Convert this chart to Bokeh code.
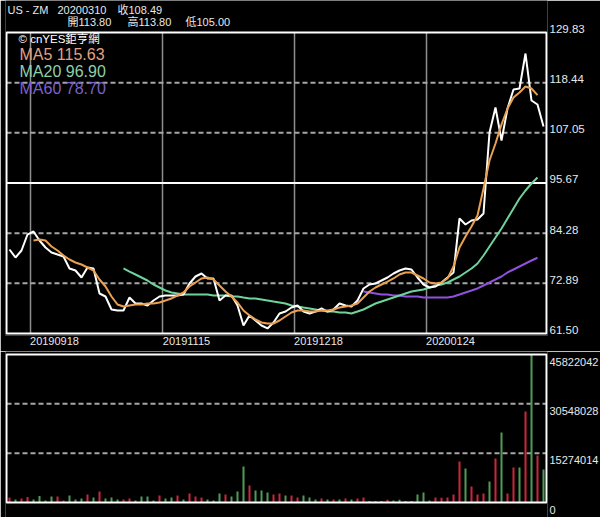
import numpy as np
from bokeh.plotting import figure
from bokeh.layouts import column
from bokeh.models import Range1d, LinearAxis, FixedTicker, Label, PrintfTickFormatter, ColumnDataSource
from bokeh.embed import file_html
from bokeh.resources import INLINE

# ---------------- data ----------------
symbol = "US - ZM"
last_date = "20200310"
last_close = "108.49"
last_open = "113.80"
last_high = "113.80"
last_low = "105.00"
source_txt = "© cnYES鉅亨網"

ma_names = ["MA5", "MA20", "MA60"]
ma_last = ["115.63", "96.90", "78.70"]

date_labels = ["20190918", "20191115", "20191218", "20200124"]
date_index = [4, 26, 48, 70]

price_ticks = [61.50, 72.89, 84.28, 95.67, 107.05, 118.44, 129.83]
vol_ticks = [0, 15274014, 30548028, 45822042]

close = [80.57, 78.75, 80.34, 83.97, 84.66, 82.61, 81.02, 79.89, 79.43, 78.98,
         76.26, 75.80, 74.21, 76.48, 76.26, 70.58, 69.90, 66.95, 66.72, 66.72,
         69.67, 68.31, 68.31, 67.86, 68.99, 69.90, 70.13, 70.13, 70.13, 70.35,
         72.85, 74.44, 75.12, 73.99, 73.99, 68.99, 70.13, 70.13, 67.86, 63.32,
         65.59, 64.45, 63.32, 62.64, 64.00, 66.04, 66.49, 67.40, 67.86, 66.49,
         66.04, 66.49, 67.18, 66.49, 66.95, 68.31, 67.86, 67.63, 68.99, 71.72,
         72.62, 72.85, 73.53, 74.21, 75.12, 75.80, 76.26, 76.03, 74.21, 72.62,
         71.94, 72.17, 73.08, 74.21, 75.35, 87.61, 86.24, 87.15, 87.38, 88.74,
         107.13, 112.81, 105.31, 112.58, 116.89, 117.12, 125.06, 114.39, 113.49, 108.49]

ma5 = [None] * 4 + [
    82.61, 82.84, 82.61, 81.25, 80.34, 79.21, 78.30, 77.62, 77.16, 76.48,
    75.80, 73.76, 72.17, 69.90, 68.08, 67.63, 67.86, 68.08, 68.08, 68.31,
    68.31, 68.54, 68.99, 69.45, 70.13, 70.81, 72.17, 73.08, 73.99, 74.21,
    73.76, 72.40, 71.03, 69.90, 68.54, 66.72, 65.59, 64.68, 64.00, 63.77,
    63.77, 64.45, 65.36, 66.27, 66.72, 66.72, 66.49, 66.49, 66.72, 66.72,
    66.95, 67.40, 67.63, 67.86, 68.31, 69.67, 71.03, 71.94, 72.62, 73.30,
    73.99, 74.89, 75.35, 75.35, 74.67, 73.99, 73.08, 72.85, 73.08, 73.99,
    76.71, 81.02, 83.52, 85.79, 88.29, 94.42, 100.77, 104.63, 108.94, 112.58,
    115.07, 116.21, 117.57, 117.12, 115.63] + [None]

ma20 = [None] * 19 + [
    76.26, 75.57, 74.89, 74.21, 73.53, 72.62, 71.94, 71.26, 70.81, 70.58,
    70.35, 70.35, 70.35, 70.35, 70.35, 70.13, 70.13, 70.13, 69.90, 69.90,
    69.67, 69.45, 69.45, 69.22, 68.99, 68.76, 68.54, 68.31, 67.86, 67.63,
    67.40, 67.18, 66.95, 66.72, 66.49, 66.49, 66.27, 66.27, 66.04, 66.49,
    66.95, 67.63, 68.31, 68.76, 69.22, 69.67, 70.13, 70.58, 71.03, 71.26,
    71.49, 71.94, 72.40, 72.62, 73.08, 73.76, 74.44, 75.35, 76.26, 77.39,
    79.21, 81.25, 83.29, 85.34, 87.61, 89.88, 92.15, 93.96, 95.55, 96.90] + [None]

ma60 = [None] * 59 + [
    71.03, 70.81, 70.58, 70.35, 70.35, 70.13, 70.13, 69.90, 69.90, 69.90,
    69.67, 69.67, 69.67, 69.67, 69.67, 69.90, 70.35, 70.81, 71.26, 71.72,
    72.40, 73.08, 73.76, 74.44, 75.35, 76.03, 76.71, 77.39, 78.07, 78.70] + [None]

volume = [1548000, 929000, 1238000, 1703000, 929000, 2012000, 619000, 1858000, 1858000, 619000,
          2167000, 929000, 1238000, 2477000, 1548000, 3406000, 1238000, 1548000, 929000, 929000,
          1238000, 619000, 1858000, 1858000, 619000, 2167000, 1238000, 1548000, 2167000, 929000,
          2786000, 1858000, 1548000, 929000, 619000, 2786000, 2477000, 1858000, 3406000, 11146000,
          5263000, 3715000, 3715000, 3096000, 2477000, 2786000, 2167000, 2167000, 1548000, 2167000,
          1548000, 929000, 1238000, 929000, 929000, 929000, 1238000, 929000, 1238000, 1548000,
          464000, 464000, 464000, 836000, 619000, 836000, 464000, 464000, 2477000, 3096000,
          619000, 1548000, 1455000, 1548000, 2477000, 12694000, 10527000, 4954000, 2477000, 2786000,
          6502000, 13623000, 21673000, 2786000, 10836000, 10836000, 28174000, 45822042, 14552000, 10217000]

# 1 = up day (red), 0 = down day (green)
vol_up = [1, 0, 1, 1, 0, 0, 0, 0, 1, 1,
          0, 0, 0, 1, 0, 1, 0, 0, 0, 1,
          1, 0, 0, 0, 0, 1, 0, 0, 1, 0,
          1, 1, 1, 0, 0, 0, 1, 0, 0, 0,
          1, 0, 0, 0, 1, 1, 0, 1, 1, 0,
          0, 0, 1, 0, 1, 0, 1, 0, 1, 1,
          0, 1, 0, 1, 0, 0, 0, 0, 0, 0,
          0, 1, 1, 1, 1, 1, 0, 1, 1, 1,
          0, 1, 0, 1, 1, 0, 1, 0, 1, 0]

# ---------------- styling ----------------
FONT = "'Liberation Sans', Arial, 'Noto Sans CJK TC', sans-serif"
TXT = "#e8e8e8"
C_MA5, C_MA20, C_MA60 = "#e9a050", "#6fd49c", "#8f52dc"
T_MA5, T_MA20, T_MA60 = "#e2a283", "#8fd0a8", "#7a62c8"
RED, GREEN = "#c8283c", "#4f9a55"
GRID = "#a6a6a6"

N = len(close)
xs = np.arange(N) + 0.5

# ---------------- price figure ----------------
PX = 301.0 / (price_ticks[-1] - price_ticks[0])       # pixels per price unit
p_lo = price_ticks[0] - 2.0 / PX
p_hi = price_ticks[0] + 333.0 / PX
d_up = 3.5 / PX

p1 = figure(frame_width=542, frame_height=335, min_border_left=5, min_border_right=53,
            min_border_top=0, min_border_bottom=16,
            x_range=Range1d(-1 / 6, N + 1 / 6), y_range=Range1d(p_lo, p_hi),
            y_axis_location=None, output_backend="svg", toolbar_location=None,
            background_fill_color="black", border_fill_color="black", outline_line_color=None)
p1.grid.visible = False
p1.extra_y_ranges = {"lab": Range1d(p_lo - d_up, p_hi - d_up)}

ax = p1.xaxis[0]
ax.ticker = FixedTicker(ticks=[i + 4 for i in date_index])
ax.major_label_overrides = {i + 4: d for i, d in zip(date_index, date_labels)}
ax.axis_line_color = None
ax.major_tick_line_color = None
ax.minor_tick_line_color = None
ax.major_tick_out = 0
ax.major_tick_in = 0
ax.major_label_standoff = 1
ax.major_label_text_color = TXT
ax.major_label_text_font = FONT
ax.major_label_text_font_size = "11px"

ry = LinearAxis(y_range_name="lab", ticker=FixedTicker(ticks=price_ticks),
                formatter=PrintfTickFormatter(format="%.2f"))
ry.axis_line_color = None
ry.major_tick_line_color = None
ry.minor_tick_line_color = None
ry.major_tick_out = 0
ry.major_tick_in = 0
ry.major_label_standoff = 2
ry.major_label_text_color = TXT
ry.major_label_text_font = FONT
ry.major_label_text_font_size = "11.5px"
p1.add_layout(ry, "right")

# vertical date grid lines
p1.segment(x0=date_index, x1=date_index, y0=[price_ticks[0]] * 4, y1=[price_ticks[-1]] * 4,
           line_color="#8f8f8f", line_width=1.5)
# dashed horizontal grid lines
dashed = [price_ticks[1], price_ticks[2], price_ticks[4], price_ticks[5]]
p1.segment(x0=[0] * 4, x1=[N] * 4, y0=dashed, y1=dashed, line_color=GRID, line_width=2,
           line_dash="5 3")
# solid middle line
p1.segment(x0=[0], x1=[N], y0=[price_ticks[3]], y1=[price_ticks[3]], line_color="white",
           line_width=2)

src = ColumnDataSource(dict(x=xs, close=np.array(close, dtype=float),
                            ma5=np.array(ma5, dtype=float), ma20=np.array(ma20, dtype=float),
                            ma60=np.array(ma60, dtype=float)))
p1.line("x", "ma60", source=src, line_color=C_MA60, line_width=2)
p1.line("x", "ma20", source=src, line_color=C_MA20, line_width=2)
p1.line("x", "close", source=src, line_color="white", line_width=2)
p1.line("x", "ma5", source=src, line_color=C_MA5, line_width=2)

# box
p1.quad(left=[0], right=[N], bottom=[price_ticks[0]], top=[price_ticks[-1]],
        fill_color=None, line_color="white", line_width=2)

FH = 335


def lab(fig, x, y, text, color, size, fh):
    fig.add_layout(Label(x=x - 5, y=fh - y, x_units="screen", y_units="screen", text=text,
                         text_color=color, text_font=FONT, text_font_size=size,
                         text_baseline="middle", text_align="left"))


lab(p1, 7, 9, symbol, TXT, "11px", FH)
lab(p1, 57, 9, last_date, TXT, "11px", FH)
lab(p1, 117, 9, "收" + last_close, TXT, "11px", FH)
lab(p1, 67, 21.5, "開" + last_open, TXT, "11px", FH)
lab(p1, 127, 21.5, "高" + last_high, TXT, "11px", FH)
lab(p1, 185, 21.5, "低" + last_low, TXT, "11px", FH)
lab(p1, 18, 38.5, source_txt, "white", "11.5px", FH)
for k, (nm, v, c) in enumerate(zip(ma_names, ma_last, [T_MA5, T_MA20, T_MA60])):
    lab(p1, 19, 53.5 + 17 * k, nm + " " + v, c, "16px", FH)

# ---------------- volume figure ----------------
VPX = 148.0 / vol_ticks[-1]
v_lo = -15.0 / VPX
v_hi = vol_ticks[-1] + 3.0 / VPX
d_v = 7.0 / VPX

p2 = figure(frame_width=542, frame_height=166, min_border_left=5, min_border_right=53,
            min_border_top=0, min_border_bottom=0,
            x_range=p1.x_range, y_range=Range1d(v_lo, v_hi),
            x_axis_location=None, y_axis_location=None, output_backend="svg",
            toolbar_location=None, background_fill_color="black", border_fill_color="black",
            outline_line_color=None)
p2.grid.visible = False
p2.extra_y_ranges = {"lab": Range1d(v_lo + d_v, v_hi + d_v)}
ry2 = LinearAxis(y_range_name="lab", ticker=FixedTicker(ticks=vol_ticks),
                 formatter=PrintfTickFormatter(format="%d"))
ry2.axis_line_color = None
ry2.major_tick_line_color = None
ry2.minor_tick_line_color = None
ry2.major_tick_out = 0
ry2.major_tick_in = 0
ry2.major_label_standoff = 2
ry2.major_label_text_color = TXT
ry2.major_label_text_font = FONT
ry2.major_label_text_font_size = "11px"
p2.add_layout(ry2, "right")

vd = [vol_ticks[1], vol_ticks[2]]
p2.segment(x0=[0] * 2, x1=[N] * 2, y0=vd, y1=vd, line_color=GRID, line_width=2, line_dash="5 3")

vsrc = ColumnDataSource(dict(x=xs, v=volume, c=[RED if u else GREEN for u in vol_up]))
p2.vbar(x="x", top="v", bottom=0, width=0.34, source=vsrc, fill_color="c", line_color=None)

p2.quad(left=[0], right=[N], bottom=[vol_ticks[0]], top=[vol_ticks[-1]],
        fill_color=None, line_color="white", line_width=2)

layout = column(p1, p2)

open("out.html", "w").write(file_html(layout, INLINE))
